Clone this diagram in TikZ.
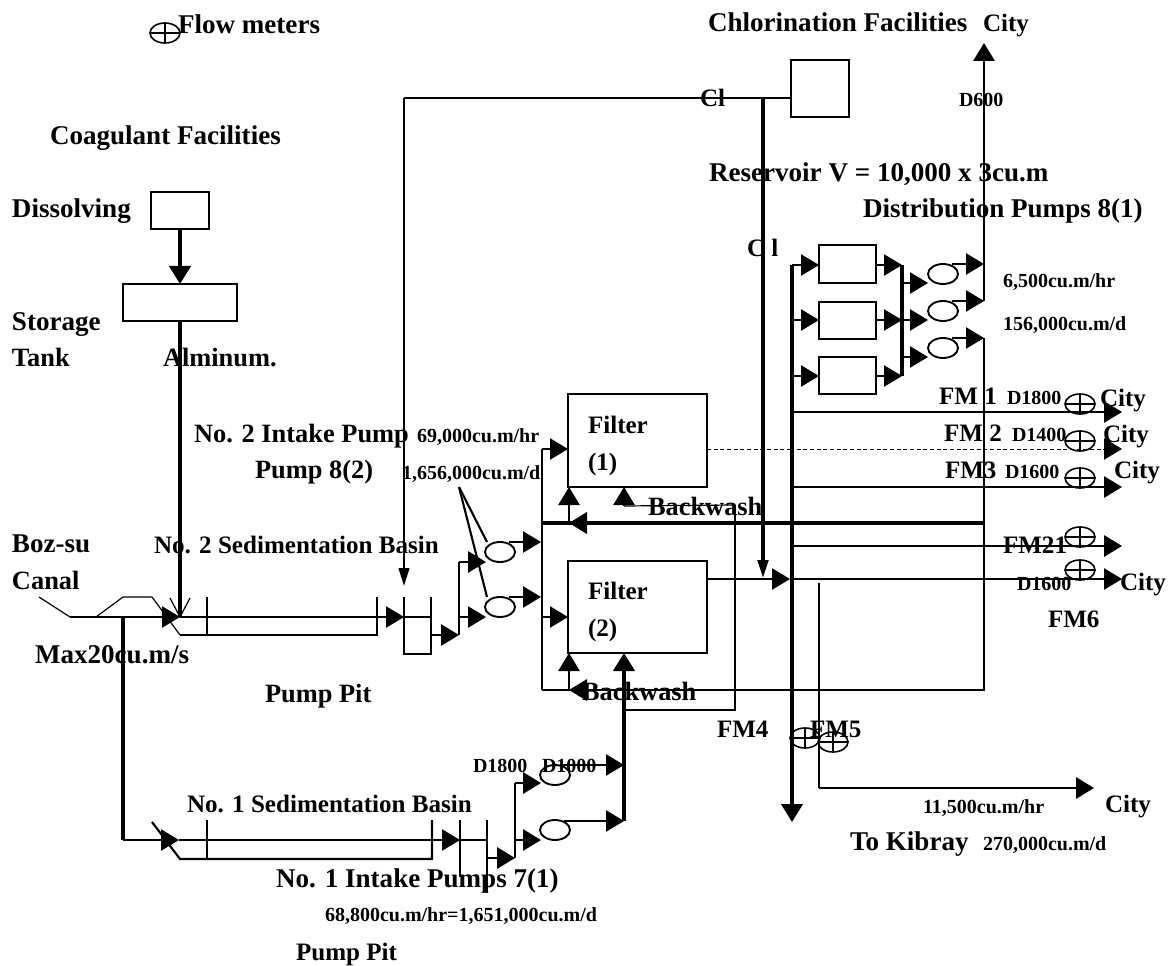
\documentclass[tikz,border=0pt]{standalone}
\usepackage{fontspec}
\setmainfont{Liberation Serif}
\usetikzlibrary{arrows.meta,shapes.geometric,calc}
\tikzset{
  txt/.style={anchor=base west,inner sep=0pt,outer sep=0pt},
  lab/.style={txt,font=\bfseries\fontsize{18.8pt}{20pt}\selectfont},
  labm/.style={txt,font=\bfseries\fontsize{19.8pt}{21pt}\selectfont},
  labw/.style={txt,font=\bfseries\fontsize{20.3pt}{22pt}\selectfont},
  sm/.style={txt,font=\bfseries\fontsize{15pt}{16pt}\selectfont},
  boxn/.style={draw,line width=1.6pt,inner sep=0pt,outer sep=0pt},
  pumpn/.style={draw,ellipse,line width=1.4pt,inner sep=0pt,outer sep=0pt,minimum width=22.5pt,minimum height=15pt},
  fmn/.style={draw,ellipse,line width=1.2pt,inner sep=0pt,outer sep=0pt,minimum width=22.5pt,minimum height=15pt},
  thinp/.style={line width=0.9pt},
  medp/.style={line width=1.6pt},
  thickp/.style={line width=2.3pt},
  fainp/.style={line width=0.7pt,densely dashed},
  arw/.style={-{Triangle[length=13.5pt,width=16pt]}},
  narw/.style={-{Triangle[length=13.5pt,width=8pt]}},
}
\newcommand{\flowm}[3]{\node[fmn] (#1) at (#2,#3) {};
  \draw[line width=1pt] (#1.west) -- (#1.east) (#1.north) -- (#1.south);}
\begin{document}
\begin{tikzpicture}[x=0.75pt,y=-0.75pt]
\useasboundingbox (0,0) rectangle (1171,966);
% boxes
\node[boxn,minimum width=43.5pt,minimum height=27.75pt] (dissolve) at (180,210.5) {};
\node[boxn,minimum width=85.5pt,minimum height=27.75pt] (storage) at (180,302.5) {};
\node[boxn,minimum width=43.5pt,minimum height=42.75pt] (chlor) at (820,88.5) {};
\node[boxn,minimum width=104.25pt,minimum height=69.75pt] (filter1) at (637.5,440.5) {};
\node[boxn,minimum width=104.25pt,minimum height=69pt] (filter2) at (637.5,607) {};
\node[boxn,minimum width=42.75pt,minimum height=28.5pt] (res1) at (847.5,264) {};
\node[boxn,minimum width=42.75pt,minimum height=27.75pt] (res2) at (847.5,320.5) {};
\node[boxn,minimum width=42.75pt,minimum height=27.75pt] (res3) at (847.5,375.5) {};
% pumps
\node[pumpn] (p1) at (500,552) {};
\node[pumpn] (p2) at (500,607) {};
\node[pumpn] (p3) at (555,775) {};
\node[pumpn] (p4) at (555,830) {};
\node[pumpn] (p5) at (943,274) {};
\node[pumpn] (p6) at (943,311) {};
\node[pumpn] (p7) at (943,348) {};
% flow meters
\flowm{fmleg}{165}{33}
\flowm{fma}{1080}{404}
\flowm{fmb}{1080}{441}
\flowm{fmc}{1080}{478}
\flowm{fmd}{1080}{537}
\flowm{fme}{1080}{570}
\flowm{fmf}{805}{738}
\flowm{fmg}{833}{742}
% junctions
\coordinate (ca) at (39,597); \coordinate (cb) at (70,617); \coordinate (cc) at (96,617);
\coordinate (cd) at (123,597); \coordinate (ce) at (152,597); \coordinate (cf) at (180,635);
\coordinate (cg) at (377,635); \coordinate (ch) at (377,597); \coordinate (ct) at (180,617);
\coordinate (cj) at (123,617); \coordinate (v1a) at (170,598); \coordinate (v1b) at (190,598);
\coordinate (w1a) at (207,597); \coordinate (w1b) at (207,635);
\coordinate (m1) at (377,617); \coordinate (m2) at (404,617);
\coordinate (pa) at (404,597); \coordinate (pb) at (404,654); \coordinate (pc) at (431,654); \coordinate (pd) at (431,597);
\coordinate (pe) at (431,617); \coordinate (pf) at (431,635); \coordinate (pg) at (459,635);
\coordinate (ph) at (459,562); \coordinate (pi) at (486,562); \coordinate (pj) at (459,617); \coordinate (pk) at (486,617);
\coordinate (lead) at (459,487); \coordinate (la) at (487,542); \coordinate (lb) at (487,597);
\coordinate (o1) at (541,542); \coordinate (o2) at (541,597);
\coordinate (bt) at (542,449); \coordinate (bb) at (542,690); \coordinate (bc) at (542,617); \coordinate (bw) at (542,523);
\coordinate (f1in) at (568,449); \coordinate (f2in) at (568,617);
\coordinate (f1bw) at (569,487); \coordinate (f1bwj) at (569,523); \coordinate (f2bw) at (569,653); \coordinate (f2bwj) at (569,690);
\coordinate (f1ba) at (624,487); \coordinate (f1bb) at (624,506); \coordinate (f2ba) at (624,653);
\coordinate (xa) at (735,505); \coordinate (xb) at (735,710); \coordinate (xc) at (624,710); \coordinate (xd) at (624,765); \coordinate (xe) at (624,821);
\coordinate (f1out) at (707,449); \coordinate (f2out) at (707,579);
\coordinate (ci1) at (404,98); \coordinate (ci2) at (763,98); \coordinate (ci3) at (763,578); \coordinate (ci4) at (404,586);
% lower train
\coordinate (la1) at (123,840); \coordinate (la2) at (179,840); \coordinate (la3) at (152,822); \coordinate (la4) at (180,859);
\coordinate (la5) at (432,859); \coordinate (la6) at (432,820); \coordinate (la7) at (207,820); \coordinate (la8) at (207,859);
\coordinate (la9) at (432,840); \coordinate (la10) at (460,840); \coordinate (la11) at (487,840);
\coordinate (la12) at (460,820); \coordinate (la13) at (460,877); \coordinate (la14) at (487,820); \coordinate (la15) at (487,893);
\coordinate (la16) at (487,858); \coordinate (la17) at (515,858); \coordinate (la18) at (515,783); \coordinate (la19) at (541,783);
\coordinate (la20) at (515,840); \coordinate (la21) at (541,840); \coordinate (la22) at (624,765); \coordinate (la23) at (624,821);
% distribution
\coordinate (d1) at (792,265); \coordinate (d2) at (792,320); \coordinate (d3) at (792,376); \coordinate (d4) at (792,822);
\coordinate (e1) at (902,265); \coordinate (e2) at (902,320); \coordinate (e3) at (902,376);
\coordinate (g1) at (928,283); \coordinate (g2) at (928,320); \coordinate (g3) at (928,357); \coordinate (g1j) at (902,283); \coordinate (g3j) at (902,357);
\coordinate (h1) at (984,264); \coordinate (h2) at (984,301); \coordinate (h3) at (984,338);
\coordinate (top) at (984,43); \coordinate (hb) at (984,690); \coordinate (bwj) at (984,523);
\coordinate (a1) at (792,412); \coordinate (a1t) at (1122,412);
\coordinate (a2) at (790,449); \coordinate (a2t) at (1122,449);
\coordinate (a3) at (792,487); \coordinate (a3t) at (1122,487);
\coordinate (a4) at (792,546); \coordinate (a4t) at (1122,546);
\coordinate (a5) at (790,579); \coordinate (a5t) at (1122,579);
\coordinate (k1) at (819,583); \coordinate (k2) at (819,788); \coordinate (k3) at (1094,788);
% coagulant
\draw[thickp,arw] (dissolve.south) -- (storage.north);
\draw[thickp] (storage.south) -- (ct);
\draw[thinp] (v1a) -- (ct) -- (v1b);
% canal and No. 2 train
\draw[thinp] (ca) -- (cb) -- (cc) -- (cd) -- (ce) -- (cf);
\draw[thinp,arw] (cb) -- (ct);
\draw[thinp] (ct) -- (m1);
\draw[medp] (cf) -- (cg) -- (ch);
\draw[medp] (w1a) -- (w1b);
\draw[thinp,arw] (m1) -- (m2);
\draw[medp] (pa) -- (pb) -- (pc) -- (pd);
\draw[thinp] (m2) -- (pe);
\draw[medp,arw] (pf) -- (pg);
\draw[medp] (pg) -- (ph);
\draw[medp,arw] (ph) -- (pi);
\draw[thinp,arw] (pj) -- (pk);
\draw[medp] (lead) -- (la);
\draw[medp] (lead) -- (lb);
\draw[thinp,arw] (p1.40 |- o1) -- (o1);
\draw[thinp,arw] (p2.40 |- o2) -- (o2);
% chlorine
\draw[thinp] (chlor.west |- ci2) -- (ci1);
\draw[medp,narw] (ci1) -- (ci4);
\draw[thickp,narw] (ci2) -- (ci3);
% filters
\draw[medp] (bt) -- (bb);
\draw[thinp,arw] (bt) -- (f1in);
\draw[thinp,arw] (bc) -- (f2in);
\draw[thickp] (bw) -- (bwj);
\draw[thickp,arw] (bwj) -- (f1bwj);
\draw[thinp,arw] (f1bwj) -- (f1bw);
\draw[medp] (bb) -- (hb) -- (h3);
\draw[medp,arw] (hb -| xa) -- (f2bwj);
\draw[thinp,arw] (f2bwj) -- (f2bw);
\draw[medp] (xa) -- (xb) -- (xc);
\draw[thinp] (xa) -- (f1bb);
\draw[thinp,arw] (f1bb) -- (f1ba);
\draw[thickp,arw] (xd) -- (f2ba);
\draw[fainp] (f1out) -- (a2);
\draw[thinp,arw] (f2out) -- (a5);
% lower train
\draw[thickp] (cj) -- (la1);
\draw[thinp,arw] (la1) -- (la2);
\draw[thinp] (la2) -- (la9);
\draw[medp] (la3) -- (la4) -- (la5) -- (la6);
\draw[medp] (la7) -- (la8);
\draw[thinp,arw] (la9) -- (la10);
\draw[thinp] (la10) -- (la11);
\draw[thinp] (la12) -- (la13);
\draw[medp] (la14) -- (la15);
\draw[medp,arw] (la16) -- (la17);
\draw[medp] (la17) -- (la18);
\draw[medp,arw] (la18) -- (la19);
\draw[thinp,arw] (la20) -- (la21);
\draw[thinp,arw] (p3.60 |- la22) -- (la22);
\draw[thinp,arw] (p4.40 |- la23) -- (la23);
\draw[thickp] (xd) -- (la23);
% distribution
\draw[thickp,arw] (d1) -- (d4);
\draw[thinp,arw] (d1) -- (d1 -| res1.west);
\draw[thinp,arw] (d2) -- (d2 -| res2.west);
\draw[thinp,arw] (d3) -- (d3 -| res3.west);
\draw[thinp,arw] (res1.east |- e1) -- (e1);
\draw[thinp,arw] (res2.east |- e2) -- (e2);
\draw[thinp,arw] (res3.east |- e3) -- (e3);
\draw[thickp] (e1) -- (e3);
\draw[thinp,arw] (g1j) -- (g1);
\draw[thinp,arw] (e2) -- (g2);
\draw[thinp,arw] (g3j) -- (g3);
\draw[thinp,arw] (p5.40 |- h1) -- (h1);
\draw[thinp,arw] (p6.40 |- h2) -- (h2);
\draw[thinp,arw] (p7.40 |- h3) -- (h3);
\draw[medp,arw] (h2) -- (top);
% outlets
\draw[thinp,arw] (a1) -- (a1t);
\draw[fainp] (a2) -- (a2t);
\draw[thinp,arw] ($(a2t)+(-18,0)$) -- (a2t);
\draw[medp,arw] (a3) -- (a3t);
\draw[thickp] (bwj) -- (bw);
\draw[medp,arw] (a4) -- (a4t);
\draw[thinp,arw] (a5) -- (a5t);
\draw[medp] (k1) -- (k2);
\draw[medp,arw] (k2) -- (k3);
% labels
\node[labw] (tflow) at (178,34) {Flow meters};
\node[labw] (tcoag) at (50,145) {Coagulant Facilities};
\node[labw] (tdis) at (12,218) {Dissolving};
\node[labw] (tsto) at (12,330) {Storage};
\node[labm] (ttank) at (12,367) {Tank};
\node[labm] (talm) at (163,367) {Alminum.};
\node[labm] (tint2) at (194,442) {No. 2 Intake Pump};
\node[labm] (tpump8) at (255,478) {Pump 8(2)};
\node[sm] (tq1) at (417,442) {69,000cu.m/hr};
\node[sm] (tq2) at (402,479) {1,656,000cu.m/d};
\node[lab] (tf1a) at (588,433) {Filter};
\node[lab] (tf1b) at (588,470) {(1)};
\node[lab] (tf2a) at (588,599) {Filter};
\node[lab] (tf2b) at (588,636) {(2)};
\node[labm] (tbw1) at (648,515) {Backwash};
\node[labm] (tbw2) at (582,700) {Backwash};
\node[lab] (tfm4) at (717,737) {FM4};
\node[lab] (tfm5) at (810,737) {FM5};
\node[sm] (td18) at (473,772) {D1800};
\node[sm] (td10) at (542,772) {D1000};
\node[labw] (tboz) at (12,552) {Boz-su};
\node[labm] (tcan) at (12,589) {Canal};
\node[lab] (tsed2) at (154,553) {No. 2 Sedimentation Basin};
\node[labw] (tmax) at (35,663) {Max20cu.m/s};
\node[labm] (tpit2) at (265,702) {Pump Pit};
\node[lab] (tsed1) at (187,812) {No. 1 Sedimentation Basin};
\node[labw] (tint1) at (276,887) {No. 1 Intake Pumps 7(1)};
\node[sm] (tq3) at (325,921) {68,800cu.m/hr=1,651,000cu.m/d};
\node[lab] (tpit1) at (296,960) {Pump Pit};
\node[labw] (tchl) at (708,32) {Chlorination Facilities};
\node[lab] (tcity0) at (983,32) {City};
\node[lab] (tcl1) at (700,107) {Cl};
\node[sm] (td600) at (959,107) {D600};
\node[labw] (tres) at (709,182) {Reservoir V = 10,000 x 3cu.m};
\node[labw] (tdist) at (863,218) {Distribution Pumps 8(1)};
\node[lab] (tcl2) at (747,257) {C l};
\node[sm] (tq4) at (1003,288) {6,500cu.m/hr};
\node[sm] (tq5) at (1003,330) {156,000cu.m/d};
\node[lab] (tfm1) at (939,404) {FM 1};
\node[sm] (td1) at (1007,404) {D1800};
\node[lab] (tc1) at (1100,406) {City};
\node[lab] (tfm2) at (944,441) {FM 2};
\node[sm] (td2) at (1012,441) {D1400};
\node[lab] (tc2) at (1103,442) {City};
\node[lab] (tfm3) at (945,478) {FM3};
\node[sm] (td3) at (1005,478) {D1600};
\node[lab] (tc3) at (1114,478) {City};
\node[lab] (tfm21) at (1003,553) {FM21};
\node[sm] (td4) at (1017,590) {D1600};
\node[lab] (tc4) at (1120,590) {City};
\node[lab] (tfm6) at (1048,627) {FM6};
\node[lab] (tc5) at (1105,812) {City};
\node[sm] (tq6) at (923,813) {11,500cu.m/hr};
\node[labw] (tkib) at (850,850) {To Kibray};
\node[sm] (tq7) at (983,850) {270,000cu.m/d};
\end{tikzpicture}
\end{document}
